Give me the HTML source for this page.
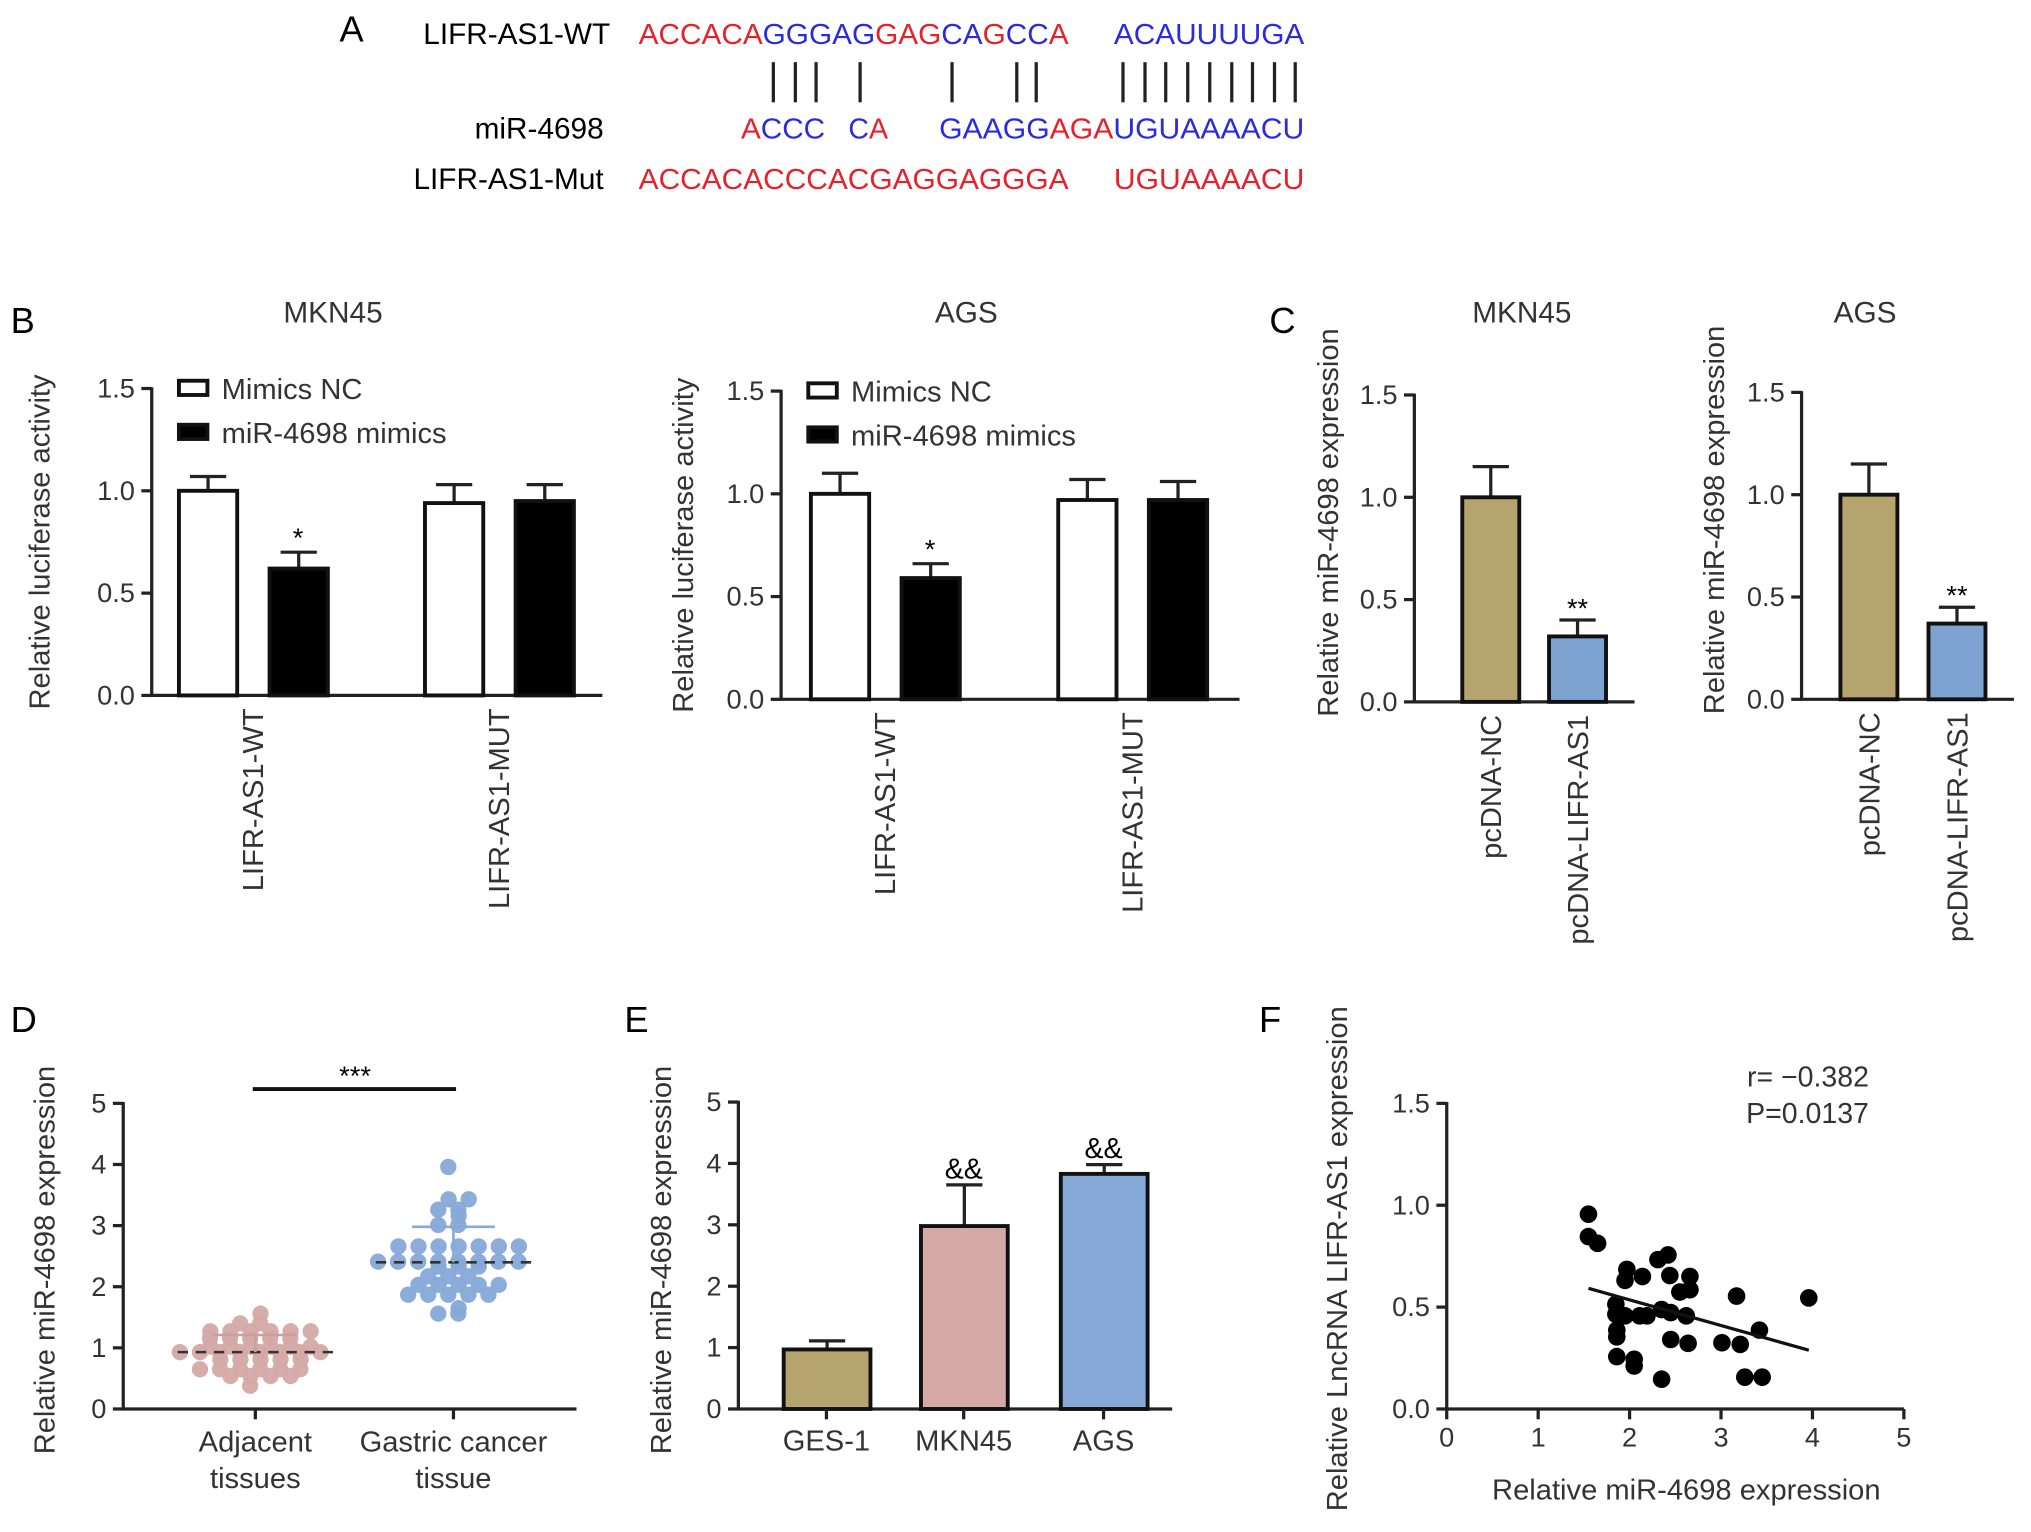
<!DOCTYPE html>
<html><head><meta charset="utf-8"><style>
html,body{margin:0;padding:0;background:#fff}
svg{display:block;font-family:"Liberation Sans",Arial,sans-serif}
</style></head><body>
<svg id="fig" width="2031" height="1532" viewBox="0 0 1568 1183">
<g id="panelA" font-size="22">
<text x="262" y="32" font-size="28">A</text>
<text x="471" y="34" text-anchor="end" font-size="23">LIFR-AS1-WT</text>
<text x="466" y="107" text-anchor="end" font-size="23">miR-4698</text>
<text x="466" y="146" text-anchor="end" font-size="23">LIFR-AS1-Mut</text>
<text x="493" y="34" textLength="332" lengthAdjust="spacingAndGlyphs"><tspan fill="#e8202a">ACCACA</tspan><tspan fill="#2a2ae0">GGGAG</tspan><tspan fill="#e8202a">GAG</tspan><tspan fill="#2a2ae0">CA</tspan><tspan fill="#e8202a">G</tspan><tspan fill="#2a2ae0">CC</tspan><tspan fill="#e8202a">A</tspan></text>
<text x="860" y="34" textLength="147" lengthAdjust="spacingAndGlyphs" fill="#2a2ae0">ACAUUUUGA</text>
<g stroke="#222" stroke-width="2.5">
<line x1="597" y1="48" x2="597" y2="79"/><line x1="614" y1="48" x2="614" y2="79"/><line x1="630" y1="48" x2="630" y2="79"/><line x1="664" y1="48" x2="664" y2="79"/><line x1="735" y1="48" x2="735" y2="79"/><line x1="785" y1="48" x2="785" y2="79"/><line x1="800" y1="48" x2="800" y2="79"/>
<line x1="867" y1="48" x2="867" y2="79"/><line x1="884" y1="48" x2="884" y2="79"/><line x1="900" y1="48" x2="900" y2="79"/><line x1="917" y1="48" x2="917" y2="79"/><line x1="934" y1="48" x2="934" y2="79"/><line x1="951" y1="48" x2="951" y2="79"/><line x1="967" y1="48" x2="967" y2="79"/><line x1="984" y1="48" x2="984" y2="79"/><line x1="1000" y1="48" x2="1000" y2="79"/>
</g>
<text x="572" y="107" textLength="65" lengthAdjust="spacingAndGlyphs"><tspan fill="#e8202a">A</tspan><tspan fill="#2a2ae0">CCC</tspan></text>
<text x="655" y="107"><tspan fill="#2a2ae0">C</tspan><tspan fill="#e8202a">A</tspan></text>
<text x="725" y="107" textLength="282" lengthAdjust="spacingAndGlyphs"><tspan fill="#2a2ae0">GAAGG</tspan><tspan fill="#e8202a">AGA</tspan><tspan fill="#2a2ae0">UGUAAAACU</tspan></text>
<text x="493" y="146" textLength="332" lengthAdjust="spacingAndGlyphs" fill="#e8202a">ACCACACCCACGAGGAGGGA</text>
<text x="860" y="146" textLength="147" lengthAdjust="spacingAndGlyphs" fill="#e8202a">UGUAAAACU</text>
</g>
<text x="8" y="257" font-size="28">B</text>
<text x="980" y="257" font-size="28">C</text>
<text x="8" y="797" font-size="28">D</text>
<text x="482" y="797" font-size="28">E</text>
<text x="972" y="797" font-size="28">F</text>
<g id="charts"></g>
</svg>
<script>
// Panel B data
const bCategories = ["LIFR-AS1-WT", "LIFR-AS1-MUT"];
const bSeries = ["Mimics NC", "miR-4698 mimics"];
const bMKN45NC = [1.00, 0.94];
const bMKN45NCErr = [0.07, 0.09];
const bMKN45Mim = [0.62, 0.95];
const bMKN45MimErr = [0.08, 0.08];
const bAGSNC = [1.00, 0.97];
const bAGSNCErr = [0.10, 0.10];
const bAGSMim = [0.59, 0.97];
const bAGSMimErr = [0.07, 0.09];
const bTicks = [0.0, 0.5, 1.0, 1.5];
// Panel C data
const cCategories = ["pcDNA-NC", "pcDNA-LIFR-AS1"];
const cMKN45 = [1.00, 0.32];
const cMKN45Err = [0.15, 0.08];
const cAGS = [1.00, 0.37];
const cAGSErr = [0.15, 0.08];
// Panel D data
const dCategories = ["Adjacent|tissues", "Gastric cancer|tissue"];
const dAdjacent = [1.56,1.40,1.40,1.27,1.27,1.27,1.27,1.27,1.27,1.16,1.16,1.16,1.16,1.16,1.02,1.02,1.02,1.02,1.02,1.02,0.93,0.93,0.93,0.93,0.93,0.93,0.93,0.93,0.81,0.81,0.81,0.81,0.81,0.65,0.65,0.65,0.65,0.65,0.65,0.54,0.54,0.54,0.54,0.38];
const dCancer = [3.96,3.43,3.43,3.26,3.26,3.16,3.01,3.01,2.66,2.66,2.66,2.66,2.66,2.66,2.66,2.41,2.41,2.41,2.41,2.41,2.41,2.41,2.41,2.33,2.33,2.33,2.17,2.17,2.17,2.03,2.03,2.03,2.03,2.03,1.87,1.87,1.87,1.87,1.87,1.65,1.56,1.56];
const dMeans = [0.93, 2.40];
const dSD = [0.28, 0.58];
const dTicks = [0,1,2,3,4,5];
// Panel E data
const eCategories = ["GES-1", "MKN45", "AGS"];
const eValues = [0.97, 2.98, 3.83];
const eErr = [0.14, 0.67, 0.15];
const eMarks = ["", "&&", "&&"];
// Panel F data
const fX = [1.55,1.55,1.65,1.97,1.95,2.14,2.31,2.42,2.44,2.66,2.55,2.66,3.17,3.96,1.85,1.85,1.95,2.11,2.19,2.35,2.45,2.62,1.86,1.86,3.42,2.45,2.64,3.01,3.21,1.86,2.05,2.05,2.35,3.26,3.45];
const fY = [0.956,0.846,0.813,0.685,0.631,0.650,0.733,0.756,0.655,0.650,0.574,0.585,0.554,0.545,0.514,0.465,0.457,0.457,0.457,0.488,0.473,0.457,0.387,0.354,0.387,0.341,0.322,0.325,0.317,0.257,0.244,0.211,0.146,0.156,0.156];
const fXTicks = [0,1,2,3,4,5];
const fYTicks = [0.0,0.5,1.0,1.5];

const NS = "http://www.w3.org/2000/svg";
const root = document.getElementById("charts");
function el(tag, attrs, parent, txt) {
  const e = document.createElementNS(NS, tag);
  for (const k in attrs) e.setAttribute(k, attrs[k]);
  if (txt !== undefined) e.textContent = txt;
  (parent || root).appendChild(e);
  return e;
}
function fmt1(v){return v.toFixed(1);}

function yAxis(g, x0, y0, y1, vmax, ticks, fmt, xEnd) {
  const sy = v => y0 - (v / vmax) * (y0 - y1);
  const ax = el("line", {x1:x0, y1:sy(vmax)-1, x2:x0, y2:y0, stroke:"#222", "stroke-width":2.5}, g);
  
  
  const xa = el("line", {x1:x0-1, y1:y0, x2:xEnd, y2:y0, stroke:"#222", "stroke-width":2.5}, g);
  
  
  ticks.forEach(t => {
    el("line", {x1:x0-8, y1:sy(t), x2:x0, y2:sy(t), stroke:"#222", "stroke-width":2.5}, g);
    const tl = el("text", {x:x0-13, y:sy(t)+7, "text-anchor":"end", "font-size":21, fill:"#333"}, g, fmt(t));
    
    
  });
  return sy;
}
function ylabel(g, x, cy, txt) {
  const t = el("text", {x:0, y:0, transform:`translate(${x},${cy}) rotate(-90)`, "text-anchor":"middle", "font-size":22.5, fill:"#333"}, g, txt);
  
  
}
function bar(g, x, w, v, err, sy, fill, name) {
  const y = sy(v);
  el("line", {x1:x+w/2, y1:sy(v+err), x2:x+w/2, y2:y, stroke:"#222", "stroke-width":2.5}, g);
  el("line", {x1:x+w/2-14, y1:sy(v+err), x2:x+w/2+14, y2:sy(v+err), stroke:"#222", "stroke-width":2.5}, g);
  const r = el("rect", {x:x, y:y, width:w, height:sy(0)-y, fill:fill, stroke:"#111", "stroke-width":3}, g);
  
  
}
function rotLabel(g, x, y, txt) {
  const t = el("text", {x:0, y:0, transform:`translate(${x+8},${y}) rotate(-90)`, "text-anchor":"end", "font-size":22.5, fill:"#333"}, g, txt);
  
  
}

// Panel B
function panelB(x0, y0, y1, xEnd, title, tcx, nc, ncE, mm, mmE, xs, ylx) {
  const g = el("g", {});
  
  
  const tt = el("text", {x:tcx, y:249, "text-anchor":"middle", "font-size":23, fill:"#333"}, g, title);
  
  
  const sy = yAxis(g, x0, y0, y1, 1.5, bTicks, fmt1, xEnd);
  ylabel(g, ylx, (y0+y1)/2, "Relative luciferase activity");
  bCategories.forEach((c, i) => {
    const bx = xs[i];
    bar(g, bx, 45, nc[i], ncE[i], sy, "#fff", "bar-mimics-nc");
    bar(g, bx+70, 45, mm[i], mmE[i], sy, "#000", "bar-mir-mimics");
    if (mm[i] < nc[i] - 0.2) {
      const s = el("text", {x:bx+92, y:sy(mm[i]+mmE[i])-4, "text-anchor":"middle", "font-size":21}, g, "*");
      
      
    }
    rotLabel(g, bx+57, y0+10, c);
  });
  const lx = x0 + 21;
  const l1 = el("rect", {x:lx, y:y1-6, width:22, height:11, fill:"#fff", stroke:"#111", "stroke-width":3}, g);
  
  
  const t1 = el("text", {x:lx+33, y:y1+8, "font-size":22.5, fill:"#333"}, g, bSeries[0]);
  
  
  const l2 = el("rect", {x:lx, y:y1+28, width:22, height:11, fill:"#000", stroke:"#111", "stroke-width":3}, g);
  
  
  const t2 = el("text", {x:lx+33, y:y1+42, "font-size":22.5, fill:"#333"}, g, bSeries[1]);
  
  
}
panelB(117, 537, 300, 465, "MKN45", 257, bMKN45NC, bMKN45NCErr, bMKN45Mim, bMKN45MimErr, [138, 328], 38);
panelB(603, 540, 302, 957, "AGS", 746, bAGSNC, bAGSNCErr, bAGSMim, bAGSMimErr, [626, 817], 535);

// Panel C
function panelC(x0, y0, y1, xEnd, title, tcx, vals, errs, xs, ylx) {
  const g = el("g", {});
  
  
  const tt = el("text", {x:tcx, y:249, "text-anchor":"middle", "font-size":23, fill:"#333"}, g, title);
  
  
  const sy = yAxis(g, x0, y0, y1, 1.5, bTicks, fmt1, xEnd);
  ylabel(g, ylx, (y0+y1)/2 - 20, "Relative miR-4698 expression");
  const fills = ["#b5a46e", "#7fa3d1"];
  cCategories.forEach((c, i) => {
    bar(g, xs[i], 44, vals[i], errs[i], sy, fills[i], "bar-" + c.toLowerCase());
    rotLabel(g, xs[i]+22, y0+10, c);
  });
  const s = el("text", {x:xs[1]+22, y:sy(vals[1]+errs[1])-2, "text-anchor":"middle", "font-size":21}, g, "**");
  
  
}
panelC(1092, 542, 305, 1262, "MKN45", 1175, cMKN45, cMKN45Err, [1129, 1196], 1033);
panelC(1391, 540, 303, 1555, "AGS", 1440, cAGS, cAGSErr, [1421, 1489], 1331);

// Panel D
(function(){
  const g = el("g", {});
  
  
  const sy = yAxis(g, 95, 1088, 852, 5, dTicks, v => String(v), 445);
  ylabel(g, 42, 973, "Relative miR-4698 expression");
  const centers = [197, 350];
  const cols = ["#d4a9a6", "#86a9d8"];
  [dAdjacent, dCancer].forEach((arr, gi) => {
    el("line", {x1:centers[gi], y1:1088, x2:centers[gi], y2:1096, stroke:"#222", "stroke-width":2.5}, g);
    const lines = dCategories[gi].split("|");
    lines.forEach((ln, k) => {
      const t = el("text", {x:centers[gi], y:1121 + k*28, "text-anchor":"middle", "font-size":22.5, fill:"#333"}, g, ln);
      
      
    });
    const counts = {};
    arr.forEach(v => { counts[v] = (counts[v] || 0) + 1; });
    const idx = {};
    const levels = Object.keys(counts).map(Number).sort((a,b)=>a-b);
    arr.forEach(v => {
      const n = counts[v]; const k = idx[v] = (idx[v] || 0);
      idx[v]++;
      const shift = (levels.indexOf(v) % 2) ? 4 : -4;
      const off = (k - (n - 1) / 2) * 15.5 + shift;
      const c = el("circle", {cx:centers[gi] + off, cy:sy(v), r:6.3, fill:cols[gi], opacity:0.95}, g);
      
      
    });
    const m = sy(dMeans[gi]);
    const ml = el("line", {x1:centers[gi]-60, y1:m, x2:centers[gi]+60, y2:m, stroke:"#333", "stroke-width":2, "stroke-dasharray":"8 6"}, g);
    
    
    const sdc = gi === 1 ? "#86a9d8" : "#c9a09c";
    el("line", {x1:centers[gi], y1:m, x2:centers[gi], y2:sy(dMeans[gi]+dSD[gi]), stroke:sdc, "stroke-width":2}, g);
    el("line", {x1:centers[gi]-32, y1:sy(dMeans[gi]+dSD[gi]), x2:centers[gi]+32, y2:sy(dMeans[gi]+dSD[gi]), stroke:sdc, "stroke-width":2}, g);
  });
  const sl = el("line", {x1:195, y1:841, x2:352, y2:841, stroke:"#111", "stroke-width":3}, g);
  
  
  const st = el("text", {x:274, y:838, "text-anchor":"middle", "font-size":21}, g, "***");
  
  
})();

// Panel E
(function(){
  const g = el("g", {});
  
  
  const sy = yAxis(g, 570, 1088, 851, 5, dTicks, v => String(v), 905);
  ylabel(g, 518, 973, "Relative miR-4698 expression");
  const xs = [605, 711, 819];
  const fills = ["#b5a46e", "#d4a9a6", "#86a9d8"];
  eCategories.forEach((c, i) => {
    bar(g, xs[i], 67, eValues[i], eErr[i], sy, fills[i], "bar-" + c.toLowerCase());
    el("line", {x1:xs[i]+33, y1:1088, x2:xs[i]+33, y2:1096, stroke:"#222", "stroke-width":2.5}, g);
    const t = el("text", {x:xs[i]+33, y:1120, "text-anchor":"middle", "font-size":22.5, fill:"#333"}, g, c);
    
    
    if (eMarks[i]) {
      const m = el("text", {x:xs[i]+33, y:sy(eValues[i]+eErr[i])-5, "text-anchor":"middle", "font-size":22}, g, eMarks[i]);
      
      
    }
  });
})();

// Panel F
(function(){
  const g = el("g", {});
  
  
  const x0 = 1117, x1 = 1470;
  const sx = v => x0 + (v / 5) * (x1 - x0);
  const sy = yAxis(g, x0, 1088, 852, 1.5, fYTicks, fmt1, x1);
  fXTicks.forEach(t => {
    el("line", {x1:sx(t), y1:1088, x2:sx(t), y2:1096, stroke:"#222", "stroke-width":2.5}, g);
    const tl = el("text", {x:sx(t), y:1117, "text-anchor":"middle", "font-size":21, fill:"#333"}, g, String(t));
    
    
  });
  const xt = el("text", {x:1302, y:1158, "text-anchor":"middle", "font-size":22.5, fill:"#333"}, g, "Relative miR-4698 expression");
  
  
  ylabel(g, 1040, 972, "Relative LncRNA LIFR-AS1 expression");
  fX.forEach((v, i) => {
    const c = el("circle", {cx:sx(v), cy:sy(fY[i]), r:6.8, fill:"#000"}, g);
    
    
  });
  const n = fX.length;
  const mx = fX.reduce((a,b)=>a+b,0)/n, my = fY.reduce((a,b)=>a+b,0)/n;
  let sxy = 0, sxx = 0;
  fX.forEach((v,i)=>{ sxy += (v-mx)*(fY[i]-my); sxx += (v-mx)*(v-mx); });
  const b = sxy/sxx, a = my - b*mx;
  const xmin = Math.min(...fX), xmax = Math.max(...fX);
  const fl = el("line", {x1:sx(xmin), y1:sy(a+b*xmin), x2:sx(xmax), y2:sy(a+b*xmax), stroke:"#111", "stroke-width":2.5}, g);
  
  
  const r1 = el("text", {x:1443, y:839, "text-anchor":"end", "font-size":22, fill:"#333"}, g, "r= \u22120.382");
  
  
  const r2 = el("text", {x:1443, y:867, "text-anchor":"end", "font-size":22, fill:"#333"}, g, "P=0.0137");
  
  
})();
</script>
</body></html>
